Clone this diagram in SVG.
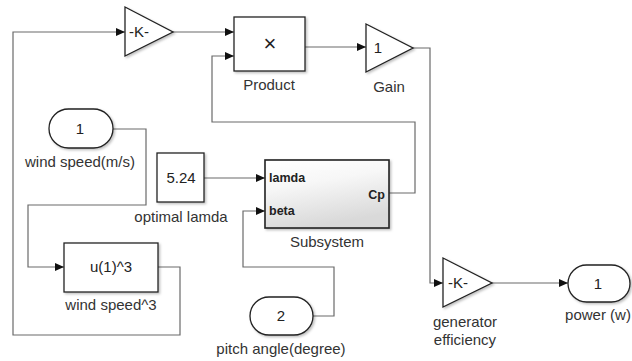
<svg xmlns="http://www.w3.org/2000/svg" width="632" height="361" viewBox="0 0 632 361">
<style>
.blk{fill:#fff;stroke:#222;stroke-width:1.3;filter:url(#sh)}
.ln{fill:none;stroke:#6a6a6a;stroke-width:1.2}
.lbl{font-family:"Liberation Sans",Arial,sans-serif;font-size:15px;fill:#333;text-anchor:middle}
.in{font-family:"Liberation Sans",Arial,sans-serif;font-size:15px;fill:#222;text-anchor:middle}
.port{font-family:"Liberation Sans",Arial,sans-serif;font-size:12.5px;font-weight:bold;fill:#222}
</style>
<defs>
<marker id="ar" markerWidth="10" markerHeight="10" refX="9" refY="4" orient="auto" markerUnits="userSpaceOnUse">
<path d="M0,0 L9,4 L0,8 Z" fill="#111"/>
</marker>
<linearGradient id="sg" x1="0" y1="0" x2="0.3" y2="1">
<stop offset="0" stop-color="#ffffff"/>
<stop offset="0.4" stop-color="#f7f7f7"/>
<stop offset="1" stop-color="#d9d9d9"/>
</linearGradient>
<filter id="sh" x="-10%" y="-10%" width="130%" height="130%">
<feDropShadow dx="1.5" dy="1.5" stdDeviation="1" flood-color="#000" flood-opacity="0.25"/>
</filter>
</defs>
<g id="connectors">
<path class="ln" d="M158,267 H180 V335 H13 V32 H125" marker-end="url(#ar)"/>
<path class="ln" d="M173,32 H234" marker-end="url(#ar)"/>
<path class="ln" d="M305,47 H366" marker-end="url(#ar)"/>
<path class="ln" d="M413,48 H430 V283 H443" marker-end="url(#ar)"/>
<path class="ln" d="M492,283 H568" marker-end="url(#ar)"/>
<path class="ln" d="M113,129 H146 V205 H28 V267 H64" marker-end="url(#ar)"/>
<path class="ln" d="M204,178 H265" marker-end="url(#ar)"/>
<path class="ln" d="M313,316 H334 V267 H243 V211 H265" marker-end="url(#ar)"/>
<path class="ln" d="M389,193 H415 V122 H212 V56 H234" marker-end="url(#ar)"/>
</g>
<g id="gainK">
<polygon class="blk" points="125,7 173,32 125,56"/>
<text class="in" x="139" y="37">-K-</text>
</g>
<g id="product">
<rect class="blk" x="234" y="17" width="71" height="54"/>
<text class="in" x="270" y="51" style="font-size:22px">×</text>
<text class="lbl" x="269" y="90">Product</text>
</g>
<g id="gain">
<polygon class="blk" points="366,24 413,48 366,72"/>
<text class="in" x="378" y="53">1</text>
<text class="lbl" x="389" y="92">Gain</text>
</g>
<g id="windspeed">
<rect class="blk" x="49" y="109" width="64" height="39" rx="19.5"/>
<text class="in" x="80" y="134">1</text>
<text class="lbl" x="80" y="167">wind speed(m/s)</text>
</g>
<g id="cube">
<rect class="blk" x="64" y="243" width="94" height="49"/>
<text class="in" x="111" y="272">u(1)^3</text>
<text class="lbl" x="111" y="310">wind speed^3</text>
</g>
<g id="optimal">
<rect class="blk" x="157" y="153" width="47" height="49"/>
<text class="in" x="181" y="183">5.24</text>
<text class="lbl" x="181" y="222">optimal lamda</text>
</g>
<g id="subsystem">
<rect x="265" y="160" width="124" height="68" fill="url(#sg)" stroke="#222" stroke-width="1.6" filter="url(#sh)"/>
<text class="port" x="269" y="182">lamda</text>
<text class="port" x="269" y="215">beta</text>
<text class="port" x="385" y="199" text-anchor="end">Cp</text>
<text class="lbl" x="327" y="247">Subsystem</text>
</g>
<g id="pitch">
<rect class="blk" x="250" y="297" width="63" height="38" rx="19"/>
<text class="in" x="281" y="321">2</text>
<text class="lbl" x="281" y="354">pitch angle(degree)</text>
</g>
<g id="genEff">
<polygon class="blk" points="443,258 492,283 443,307"/>
<text class="in" x="458" y="288">-K-</text>
<text class="lbl" x="465" y="327">generator</text>
<text class="lbl" x="465" y="345">efficiency</text>
</g>
<g id="power">
<rect class="blk" x="568" y="265" width="62" height="37" rx="18.5"/>
<text class="in" x="598" y="289">1</text>
<text class="lbl" x="598" y="320">power (w)</text>
</g>
</svg>
